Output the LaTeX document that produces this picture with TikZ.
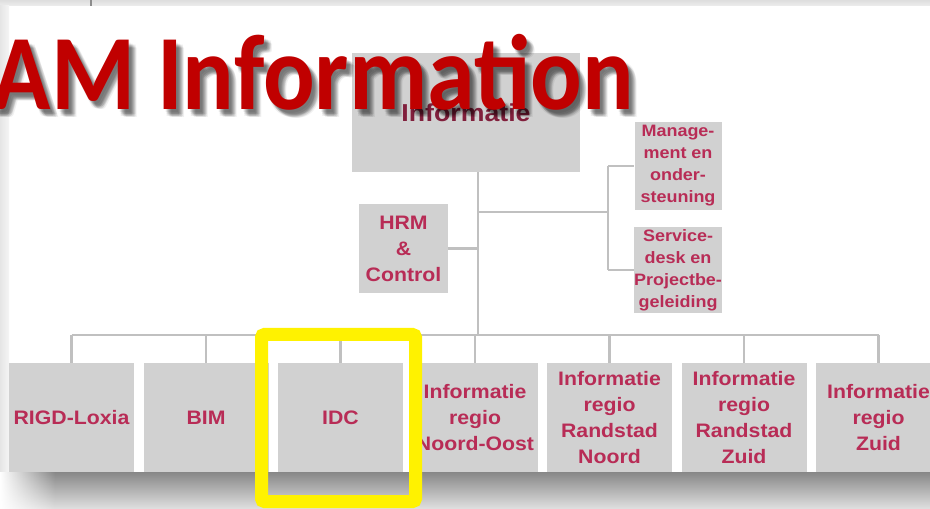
\documentclass[tikz,border=0pt]{standalone}
\usepackage{fontspec}
\usetikzlibrary{fadings}
\newfontfamily\titlefont[FakeStretch=0.9]{Carlito}
\newfontfamily\boxfont[FakeStretch=1.09]{Liberation Sans}
\definecolor{boxgray}{RGB}{209,209,209}
\definecolor{boxtext}{RGB}{184,44,86}
\definecolor{titlered}{RGB}{192,0,0}
\definecolor{linegray}{RGB}{192,192,192}
\tikzfading[name=fadeR, left color=transparent!0, right color=transparent!100]
\begin{document}
\begin{tikzpicture}[x=1bp,y=-1bp,
  unit/.style={fill=boxgray, inner sep=0pt, text=boxtext, align=center,
    font=\boxfont\bfseries\fontsize{19.5bp}{26bp}\selectfont},
  bottomunit/.style={unit, minimum width=125bp, minimum height=109bp},
  sideunit/.style={unit, minimum width=87bp,
    font=\boxfont\bfseries\fontsize{16.5bp}{22bp}\selectfont},
  conn/.style={draw=linegray, line width=2.2bp},
  titletext/.style={anchor=base east, inner sep=0pt,
    font=\titlefont\bfseries\fontsize{107bp}{110bp}\selectfont}]
\useasboundingbox (0,0) rectangle (930,509);
\fill[white] (0,0) rectangle (930,509);
% window frame
\shade[top color=black!13, bottom color=black!7] (0,0) rectangle (930,6);
\draw[black!45, line width=1.5bp] (91,0) -- (91,6);
\shade[left color=black!10, right color=black!4] (0,6) rectangle (9,472);
% bottom shadow
\shade[top color=black!47, bottom color=black!12] (0,472) rectangle (930,509);
\fill[white, path fading=fadeR] (0,472) rectangle (55,509);

% boxes
\node[unit, minimum width=228bp, minimum height=119bp,
  font=\boxfont\bfseries\fontsize{24.5bp}{28bp}\selectfont,
  text=boxtext!70!black] (info) at (466,112.5) {Informatie};
\node[sideunit, minimum height=88bp] (mgmt) at (678,166) {Manage-\\ment en\\onder-\\steuning};
\node[sideunit, minimum height=86bp] (svc) at (678,270) {Service-\\desk en\\Projectbe-\\geleiding};
\node[unit, minimum width=89bp, minimum height=89bp] (hrm) at (403.5,248.5) {HRM\\\&\\Control};

\node[bottomunit] (rigd)   at (71.5,417.5)  {RIGD-Loxia};
\node[bottomunit] (bim)    at (206,417.5)   {BIM};
\node[bottomunit] (idc)    at (340.5,417.5) {IDC};
\node[bottomunit] (noost)  at (475,417.5)   {Informatie\\regio\\Noord-Oost};
\node[bottomunit] (rnoord) at (609.5,417.5) {Informatie\\regio\\Randstad\\Noord};
\node[bottomunit] (rzuid)  at (744,417.5)   {Informatie\\regio\\Randstad\\Zuid};
\node[bottomunit] (zuid)   at (878.5,417.5) {Informatie\\regio\\Zuid};

% connectors
\coordinate (hub) at (478,335);
\coordinate (rb) at (608,212);
\draw[conn] (info.south -| hub) -- (hub);
\draw[conn] (hub -| rigd.north) -- (hub -| zuid.north);
\foreach \n in {rigd,bim,idc,noost,rnoord,rzuid,zuid}
  \draw[conn] (hub -| \n.north) -- (\n.north);
\draw[conn] (hrm.east) -- (hrm.east -| hub);
\draw[conn] (rb -| hub) -- (rb);
\draw[conn] (mgmt.west -| rb) -- (svc.west -| rb);
\draw[conn] (mgmt.west -| rb) -- (mgmt.west);
\draw[conn] (svc.west -| rb) -- (svc.west);

% title with soft shadow
\foreach \dx/\dy [count=\i] in {2/3,3/5,4/4,4/6,5/5,5/7,6/6,6/8,7/7,3/7,7/5,8/8}
  \node[titletext, text=black, opacity=0.06] (tsh\i) at (634+\dx,110+\dy) {AM Information};
\node[titletext, text=titlered] (title) at (634,110) {AM Information};

% highlight
\node[draw=yellow, line width=13bp, rounded corners=3bp, inner sep=0pt,
  minimum width=154bp, minimum height=167bp] (hl) at (338.5,418) {};
\end{tikzpicture}
\end{document}
